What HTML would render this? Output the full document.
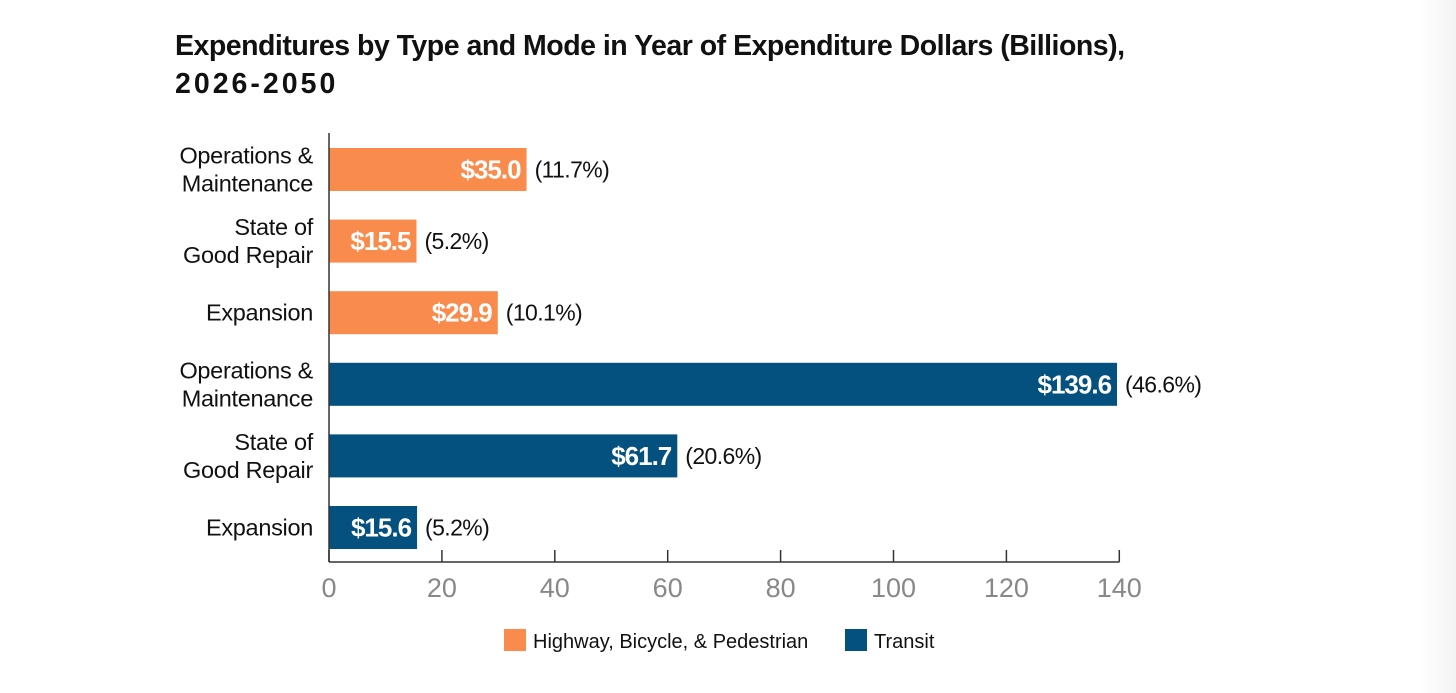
<!DOCTYPE html>
<html><head><meta charset="utf-8"><style>
body{margin:0;width:1456px;height:693px;background:#fff;overflow:hidden;font-family:"Liberation Sans",sans-serif;}
#edge{position:absolute;left:1420px;top:0;width:36px;height:693px;background:linear-gradient(to right,#fff,#f3f3f3);}
</style></head><body>
<div id="edge"></div>
<svg width="1456" height="693" style="position:absolute;left:0;top:0">
<text x="175" y="55" font-size="28.5" font-weight="bold" fill="#111" letter-spacing="-0.5">Expenditures by Type and Mode in Year of Expenditure Dollars (Billions),</text>
<text x="175" y="93" font-size="28.5" font-weight="bold" fill="#111" letter-spacing="3">2026-2050</text>
<g id="plot"></g>
</svg>
<script>
const labels=[["Operations &","Maintenance"],["State of","Good Repair"],["Expansion"],["Operations &","Maintenance"],["State of","Good Repair"],["Expansion"]];
const values=[35.0,15.5,29.9,139.6,61.7,15.6];
const shares=["11.7%","5.2%","10.1%","46.6%","20.6%","5.2%"];
const modes=["hwy","hwy","hwy","transit","transit","transit"];
const ticks=[0,20,40,60,80,100,120,140];
const colors={hwy:"#F98C4C",transit:"#04507F"};
const NS="http://www.w3.org/2000/svg";
const g=document.getElementById("plot");
const x=v=>329+v*5.645;
const yTop=i=>148+i*71.6;
const bh=43, axisY=562;
function mk(t,a,txt){const e=document.createElementNS(NS,t);for(const k in a)e.setAttribute(k,a[k]);if(txt!=null)e.textContent=txt;g.appendChild(e);return e;}
values.forEach((v,i)=>{
  const y=yTop(i);
  const r=mk("rect",{x:x(0),y:y,width:x(v)-x(0),height:bh,fill:colors[modes[i]]});
  
  
  const val=mk("text",{x:x(v)-6,y:y+bh/2+9,"font-size":26,"font-weight":"bold",fill:"#fff","text-anchor":"end","letter-spacing":"-1"},"$"+v.toFixed(1));
  
  
  const pc=mk("text",{x:x(v)+8,y:y+bh/2+8,"font-size":23,fill:"#111","letter-spacing":"-0.6"},"("+shares[i]+")");
  
  
  const L=labels[i];
  L.forEach((s,j)=>{
    const ty=L.length==1? y+bh/2+8 : y+bh/2-6+j*28;
    const t=mk("text",{x:313,y:ty,"font-size":23.5,fill:"#111","text-anchor":"end","letter-spacing":"-0.3"},s);
    
    
  });
});
const ya=mk("line",{x1:329,y1:133,x2:329,y2:axisY,stroke:"#333","stroke-width":1.5});


const xa=mk("line",{x1:329,y1:axisY,x2:x(140),y2:axisY,stroke:"#333","stroke-width":1.5});


ticks.forEach(t=>{
  const tk=mk("line",{x1:x(t),y1:axisY-12,x2:x(t),y2:axisY,stroke:"#333","stroke-width":1.5});
  
  
  const tl=mk("text",{x:x(t),y:597,"font-size":27,fill:"#888","text-anchor":"middle"},String(t));
  
  
});
const l1=mk("rect",{x:504,y:629,width:22,height:22,fill:colors.hwy});


const l1t=mk("text",{x:533,y:648,"font-size":20,fill:"#111"},"Highway, Bicycle, & Pedestrian");


const l2=mk("rect",{x:845,y:629,width:22,height:22,fill:colors.transit});


const l2t=mk("text",{x:874,y:648,"font-size":20,fill:"#111"},"Transit");


</script>
</body></html>
